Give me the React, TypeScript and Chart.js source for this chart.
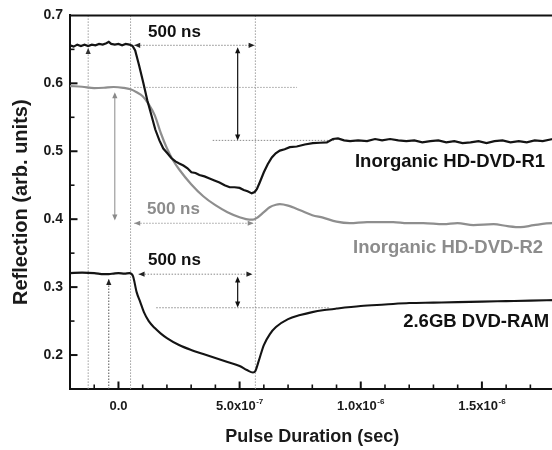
import React, { useEffect, useRef } from "react";
import { Chart, registerables } from "chart.js";

Chart.register(...registerables);

// ---------- data (time in ns, reflection in arb. units) ----------
const r1TimeNs = [-200,-185,-170,-155,-140,-125,-110,-95,-80,-65,-50,-40,-30,-15,0,15,30,45,58,69,85,102,119,136,152,169,185,202,218,235,251,268,285,301,318,334,355,376,396,417,438,459,479,500,517,533,550,562,571,583,600,616,633,649,666,686,707,736,769,802,832,860,885,906,931,956,989,1026,1059,1088,1121,1155,1188,1221,1254,1287,1320,1353,1386,1420,1453,1486,1519,1552,1585,1618,1652,1685,1718,1751,1792,1800];
const r1Values = [0.656,0.654,0.657,0.655,0.657,0.655,0.657,0.656,0.658,0.657,0.659,0.661,0.658,0.657,0.658,0.656,0.658,0.657,0.655,0.6485,0.6265,0.6015,0.575,0.553,0.532,0.516,0.504,0.497,0.490,0.485,0.482,0.479,0.475,0.469,0.468,0.465,0.463,0.460,0.457,0.454,0.450,0.447,0.447,0.446,0.443,0.441,0.438,0.440,0.444,0.454,0.469,0.481,0.491,0.497,0.501,0.503,0.506,0.507,0.510,0.512,0.5125,0.513,0.518,0.519,0.516,0.515,0.516,0.515,0.518,0.516,0.518,0.516,0.515,0.516,0.513,0.515,0.516,0.513,0.515,0.512,0.513,0.515,0.512,0.515,0.516,0.513,0.515,0.513,0.516,0.515,0.518,0.517];

const r2TimeNs = [-200,-150,-100,-60,-20,20,50,75,100,125,150,175,200,225,250,300,350,400,450,500,540,555,570,600,624,650,666,700,750,800,844,900,955,1026,1134,1192,1258,1341,1399,1465,1548,1606,1660,1714,1792,1800];
const r2Values = [0.596,0.595,0.593,0.5935,0.5946,0.5934,0.5912,0.5868,0.5809,0.5691,0.5529,0.5265,0.5044,0.4868,0.4735,0.4515,0.4338,0.4206,0.4103,0.4029,0.3993,0.3993,0.4015,0.4103,0.4176,0.4213,0.4221,0.4199,0.4132,0.4059,0.4022,0.3963,0.3941,0.3956,0.3956,0.3941,0.3941,0.3926,0.3941,0.3912,0.3926,0.3897,0.3882,0.3912,0.3941,0.3941];

const r3TimeNs = [-200,-150,-100,-60,-40,-20,0,25,45,60,75,90,105,125,150,175,200,250,300,350,400,450,500,530,555,565,580,600,625,650,700,750,800,850,900,1000,1100,1200,1300,1400,1500,1600,1700,1800];
const r3Values = [0.3206,0.3213,0.3206,0.3191,0.3191,0.3199,0.3206,0.3199,0.3206,0.3162,0.2926,0.2780,0.2632,0.2500,0.2397,0.2316,0.2250,0.2147,0.2074,0.2015,0.1956,0.1897,0.1838,0.1779,0.1743,0.1765,0.1926,0.2147,0.2309,0.2412,0.2529,0.2588,0.2632,0.2662,0.2684,0.2721,0.2743,0.2765,0.2772,0.2779,0.2787,0.2794,0.2801,0.2809];

const seriesNames = ["Inorganic HD-DVD-R1", "Inorganic HD-DVD-R2", "2.6GB DVD-RAM"];

// tick labels
const xLabelValuesNs = [0, 500, 1000, 1500];
const xLabelBase = ["0.0", "5.0x10", "1.0x10", "1.5x10"];
const xLabelExp = ["", "-7", "-6", "-6"];

// annotations (data units)
const guideLinesNs = [-125, 50, 565];
const spanLabel = "500 ns";

const FONT = "'Liberation Sans', Arial, Helvetica, sans-serif";
Chart.defaults.font.family = FONT;

const W = 600;
const H = 450;

function toSec(ns: number) {
  return ns * 1e-9;
}

function head(ctx: CanvasRenderingContext2D, x: number, y: number, ang: number, color: string) {
  ctx.save();
  ctx.translate(x, y);
  ctx.rotate(ang);
  ctx.fillStyle = color;
  ctx.beginPath();
  ctx.moveTo(0, 0);
  ctx.lineTo(-6, -2.6);
  ctx.lineTo(-6, 2.6);
  ctx.closePath();
  ctx.fill();
  ctx.restore();
}

function seg(ctx: CanvasRenderingContext2D, x1: number, y1: number, x2: number, y2: number, color: string, dotted: boolean, width = 1) {
  ctx.save();
  ctx.strokeStyle = color;
  ctx.lineWidth = width;
  if (dotted) ctx.setLineDash([1.5, 1.5]);
  ctx.beginPath();
  ctx.moveTo(x1, y1);
  ctx.lineTo(x2, y2);
  ctx.stroke();
  ctx.restore();
}

const annotationPlugin = {
  id: "annotations",
  beforeDatasetsDraw(chart: any) {
    const { ctx, chartArea } = chart;
    const xs = chart.scales.x;
    const ys = chart.scales.y;
    const X = (ns: number) => xs.getPixelForValue(toSec(ns));
    const Y = (v: number) => ys.getPixelForValue(v);
    ctx.save();
    ctx.beginPath();
    ctx.rect(chartArea.left, chartArea.top, chartArea.right - chartArea.left, chartArea.bottom - chartArea.top);
    ctx.clip();
    const lg = "#9c9c9c";
    // full-height guides
    guideLinesNs.forEach((ns) => seg(ctx, X(ns), chartArea.top, X(ns), chartArea.bottom, lg, true));
    head(ctx, X(-125), Y(0.652), -Math.PI / 2, "#333");
    // dotted up-arrow to DVD-RAM level
    seg(ctx, X(-40), chartArea.bottom, X(-40), Y(0.312), "#555", true);
    head(ctx, X(-40), Y(0.312), -Math.PI / 2, "#222");

    // R2 level guide and gray vertical double arrow
    seg(ctx, X(65), Y(0.594), X(737), Y(0.594), "#a0a0a0", true);
    seg(ctx, X(-15), Y(0.584), X(-15), Y(0.401), "#8a8a8a", false, 1);
    head(ctx, X(-15), Y(0.587), -Math.PI / 2, "#8a8a8a");
    head(ctx, X(-15), Y(0.398), Math.PI / 2, "#8a8a8a");

    // R1 500ns arrow
    seg(ctx, X(65), Y(0.656), X(562), Y(0.656), "#8a8a8a", true);
    head(ctx, X(65), Y(0.656), Math.PI, "#222");
    head(ctx, X(562), Y(0.656), 0, "#222");
    // R1 lower level guide
    seg(ctx, X(389), Y(0.516), X(890), Y(0.516), "#8a8a8a", true);
    // R1 vertical double arrow
    seg(ctx, X(492), Y(0.649), X(492), Y(0.52), "#111", false, 1.2);
    head(ctx, X(492), Y(0.653), -Math.PI / 2, "#111");
    head(ctx, X(492), Y(0.516), Math.PI / 2, "#111");

    // R2 500ns arrow (gray)
    seg(ctx, X(65), Y(0.394), X(558), Y(0.394), "#a0a0a0", true);
    head(ctx, X(65), Y(0.394), Math.PI, "#8a8a8a");
    head(ctx, X(558), Y(0.394), 0, "#8a8a8a");

    // R3 500ns arrow
    seg(ctx, X(83), Y(0.319), X(553), Y(0.319), "#8a8a8a", true);
    head(ctx, X(83), Y(0.319), Math.PI, "#222");
    head(ctx, X(553), Y(0.319), 0, "#222");
    // R3 lower level guide
    seg(ctx, X(156), Y(0.2696), X(873), Y(0.2696), "#8a8a8a", true);
    // R3 vertical double arrow
    seg(ctx, X(492), Y(0.312), X(492), Y(0.273), "#111", false, 1.2);
    head(ctx, X(492), Y(0.3155), -Math.PI / 2, "#111");
    head(ctx, X(492), Y(0.2698), Math.PI / 2, "#111");
    ctx.restore();
  },
  afterDraw(chart: any) {
    const { ctx, chartArea } = chart;
    const xs = chart.scales.x;
    const ys = chart.scales.y;
    const X = (ns: number) => xs.getPixelForValue(toSec(ns));
    const Y = (v: number) => ys.getPixelForValue(v);
    ctx.save();
    // top frame line
    ctx.strokeStyle = "#111";
    ctx.lineWidth = 2;
    ctx.beginPath();
    ctx.moveTo(chartArea.left - 1, chartArea.top);
    ctx.lineTo(chartArea.right + 1, chartArea.top);
    ctx.stroke();

    // inward ticks
    xs.ticks.forEach((t: any) => {
      const k = Math.round(t.value / 1e-7);
      const p = xs.getPixelForValue(t.value);
      if (p <= chartArea.left + 2 || p >= chartArea.right - 1) return;
      const major = k % 5 === 0;
      ctx.lineWidth = major ? 2 : 1.6;
      ctx.beginPath();
      ctx.moveTo(p, chartArea.bottom);
      ctx.lineTo(p, chartArea.bottom - (major ? 7.5 : 4.5));
      ctx.stroke();
    });
    ys.ticks.forEach((t: any) => {
      const k = Math.round(t.value * 100);
      const p = ys.getPixelForValue(t.value);
      if (p >= chartArea.bottom - 2 || p <= chartArea.top + 2) return;
      const major = k % 10 === 0;
      ctx.lineWidth = major ? 2 : 1.6;
      ctx.beginPath();
      ctx.moveTo(chartArea.left, p);
      ctx.lineTo(chartArea.left + (major ? 7.5 : 4.5), p);
      ctx.stroke();
    });

    // x tick labels with superscript exponents
    ctx.fillStyle = "#1a1a1a";
    ctx.textBaseline = "alphabetic";
    ctx.textAlign = "left";
    xLabelValuesNs.forEach((ns, i) => {
      const baseFont = `bold 13px ${FONT}`;
      const supFont = `bold 8px ${FONT}`;
      ctx.font = baseFont;
      const bw = ctx.measureText(xLabelBase[i]).width;
      ctx.font = supFont;
      const sw = xLabelExp[i] ? ctx.measureText(xLabelExp[i]).width + 0.5 : 0;
      const start = X(ns) - (bw + sw) / 2;
      const base = chartArea.bottom + 21;
      ctx.font = baseFont;
      ctx.fillText(xLabelBase[i], start, base);
      if (xLabelExp[i]) {
        ctx.font = supFont;
        ctx.fillText(xLabelExp[i], start + bw + 0.5, base - 6);
      }
    });

    // annotation texts
    ctx.font = `bold 17px ${FONT}`;
    ctx.textAlign = "center";
    ctx.textBaseline = "middle";
    ctx.fillStyle = "#111";
    ctx.fillText(spanLabel, X(231), Y(0.675));
    ctx.fillText(spanLabel, X(231), Y(0.3397));
    ctx.fillStyle = "#8c8c8c";
    ctx.fillText(spanLabel, X(227), Y(0.414));

    ctx.font = `bold 18.5px ${FONT}`;
    ctx.textAlign = "left";
    ctx.fillStyle = "#111";
    ctx.fillText(seriesNames[0], X(976), Y(0.4838));
    ctx.fillStyle = "#8c8c8c";
    ctx.fillText(seriesNames[1], X(968), Y(0.3574));
    ctx.fillStyle = "#111";
    ctx.fillText(seriesNames[2], X(1175), Y(0.2485));
    ctx.restore();
  },
};

function pts(t: number[], v: number[]) {
  return t.map((ns, i) => ({ x: toSec(ns), y: v[i] }));
}

export default function App() {
  const ref = useRef<HTMLCanvasElement | null>(null);
  useEffect(() => {
    if (!ref.current) return;
    const chart = new Chart(ref.current, {
      type: "line",
      data: {
        datasets: [
          { label: seriesNames[0], data: pts(r1TimeNs, r1Values), borderColor: "#141414", borderWidth: 2.2, pointRadius: 0, tension: 0, fill: false },
          { label: seriesNames[1], data: pts(r2TimeNs, r2Values), borderColor: "#8e8e8e", borderWidth: 2.2, pointRadius: 0, cubicInterpolationMode: "monotone", fill: false },
          { label: seriesNames[2], data: pts(r3TimeNs, r3Values), borderColor: "#141414", borderWidth: 2.1, pointRadius: 0, cubicInterpolationMode: "monotone", fill: false },
        ],
      },
      options: {
        animation: false,
        responsive: false,
        maintainAspectRatio: false,
        layout: { padding: { left: 0, top: 15, right: W - 554.6, bottom: 0 } },
        plugins: { legend: { display: false }, tooltip: { enabled: false } },
        scales: {
          x: {
            type: "linear",
            min: -2e-7,
            max: 1.8e-6,
            grid: { display: false, drawTicks: false },
            border: { display: true, color: "#111", width: 2 },
            ticks: { display: false, stepSize: 1e-7 },
            title: {
              display: true,
              text: "Pulse Duration (sec)",
              color: "#1a1a1a",
              font: { size: 18, weight: "bold", family: FONT },
              padding: { top: 0, bottom: 2 },
            },
            afterFit: (s: any) => {
              s.height = 61;
            },
          },
          y: {
            type: "linear",
            min: 0.15,
            max: 0.7,
            grid: { display: false, drawTicks: false },
            border: { display: true, color: "#111", width: 2 },
            ticks: {
              stepSize: 0.05,
              padding: 7,
              color: "#1a1a1a",
              font: { size: 14, weight: "bold", family: FONT },
              callback: (v: any) => {
                const k = Math.round(Number(v) * 100);
                return k % 10 === 0 ? (k / 100).toFixed(1) : "";
              },
            },
            title: {
              display: true,
              text: "Reflection (arb. units)",
              color: "#1a1a1a",
              font: { size: 20, weight: "bold", family: FONT },
              padding: { top: 9, bottom: 0 },
            },
            afterFit: (s: any) => {
              s.width = 70;
            },
          },
        },
      },
      plugins: [annotationPlugin],
    });
    return () => chart.destroy();
  }, []);
  return (
    <div style={{ position: "fixed", left: 0, top: 0, width: 552, height: 450, overflow: "hidden", background: "#fff" }}>
      <canvas ref={ref} width={W} height={H} style={{ display: "block", width: W, height: H }} />
    </div>
  );
}
